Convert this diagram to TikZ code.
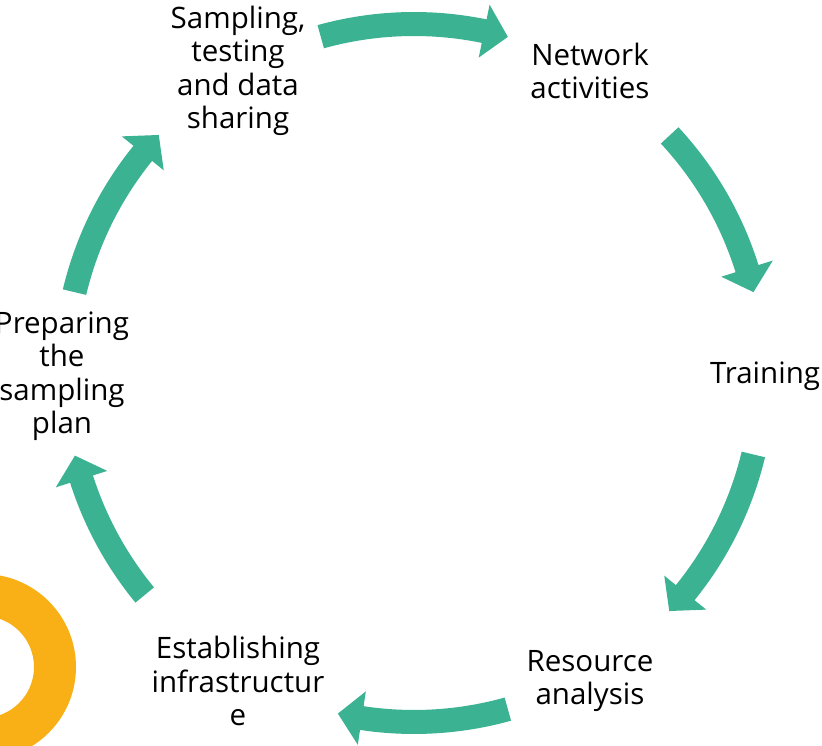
\documentclass[tikz,border=0pt]{standalone}
\usepackage{fontspec}
\setmainfont{Open Sans}
\definecolor{cycteal}{HTML}{3BB392}
\definecolor{ringorange}{HTML}{F8B016}
\newcommand\cycarrow[2]{%
  \fill[cycteal,shift={(414,372)}]
    (#1:361) arc[start angle=#1, end angle=#2+4, radius=361]
    -- (#2+4:376) -- (#2:349) -- (#2+4:322) -- (#2+4:337)
    arc[start angle=#2+4, end angle=#1, radius=337] -- cycle;}
\begin{document}
\begin{tikzpicture}[x=1pt,y=1pt,
  lbl/.style={align=center,inner sep=0pt,font=\fontsize{29.5}{33.5}\selectfont,text=black}]
\useasboundingbox (0,0) rectangle (822,745);
\clip (0,0) rectangle (822,745);
\fill[white] (0,0) rectangle (822,745);
% orange ring
\fill[ringorange,even odd rule] (-17,78) circle[radius=93] (-17,78) circle[radius=51];
% arrows
\cycarrow{105.5}{74.4}
\cycarrow{42.9}{13.4}
\cycarrow{-13.5}{-43}
\cycarrow{-74.4}{-102.6}
\cycarrow{-140.5}{-166.3}
\cycarrow{166.6}{137}
% labels
\node[lbl] (samp) at (238,674) {Sampling,\\testing\\and data\\sharing};
\node[lbl] (net) at (590,674) {Network\\activities};
\node[lbl] (train) at (765,369) {Training};
\node[lbl] (res) at (590,64) {Resource\\analysis};
\node[lbl] (est) at (238,64) {Establishing\\infrastructur\\e};
\node[lbl] (prep) at (62,369) {Preparing\\the\\sampling\\plan};
\end{tikzpicture}
\end{document}
